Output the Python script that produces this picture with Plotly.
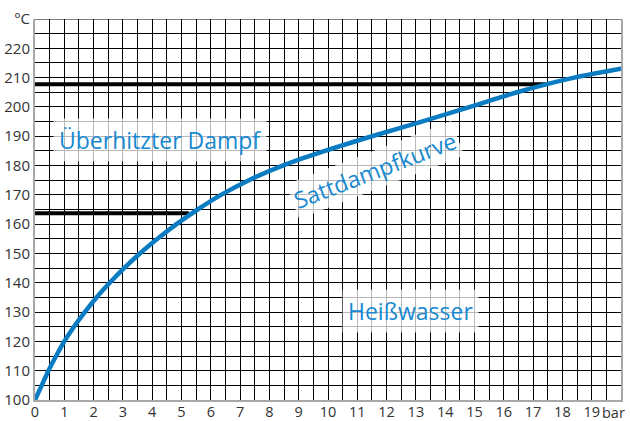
import plotly.graph_objects as go

# Saturation curve of water: gauge pressure (bar) vs temperature (°C)
pressure_bar = [0, 0.23, 0.46, 0.72, 1.0, 1.33, 1.7, 2.1, 2.55, 3.04, 3.58, 4.18,
                4.83, 5.55, 6.35, 7.3, 8.45, 9.9, 11.5, 13.2, 14.85, 16.45, 18.4, 20, 20.2]
temperature_c = [100, 105, 110, 115, 120, 125, 130, 135, 140, 145, 150, 155,
                 160, 165, 170, 175, 180, 185, 190, 195, 200, 205, 210, 213, 213.4]

# Marked operating points: horizontal lines running up to the curve
marker_temps = [207.7, 163.7]
marker_end_bar = [17.45, 5.25]

x_ticks = list(range(0, 20))
x_tick_labels = [str(v) for v in x_ticks]
y_ticks = list(range(100, 230, 10)) + [230]
y_tick_labels = [str(v) for v in range(100, 230, 10)] + ["°C"]

BLUE = "#0b7cc1"
TEXT_BLUE = "#1889d0"
FONT = "Open Sans"

fig = go.Figure()

for t, xe in zip(marker_temps, marker_end_bar):
    fig.add_trace(go.Scatter(x=[0, xe], y=[t, t], mode="lines",
                             line=dict(color="black", width=4),
                             hoverinfo="skip", showlegend=False))

fig.add_trace(go.Scatter(x=pressure_bar, y=temperature_c, mode="lines",
                         line=dict(color=BLUE, width=4.5, shape="spline", smoothing=1.0),
                         cliponaxis=False, showlegend=False))

box = "rgba(255,255,255,0.72)"
fig.add_annotation(x=4.27, y=188.8, text="Überhitzter Dampf", showarrow=False,
                   font=dict(family=FONT, size=23, color=TEXT_BLUE),
                   bgcolor=box, borderpad=5)
fig.add_annotation(x=11.6, y=178.6, text="Sattdampfkurve", showarrow=False, textangle=-21,
                   font=dict(family=FONT, size=23, color=TEXT_BLUE),
                   bgcolor=box, borderpad=2)
fig.add_annotation(x=12.8, y=130.2, text="Heißwasser", showarrow=False,
                   font=dict(family=FONT, size=23, color=TEXT_BLUE),
                   bgcolor=box, borderpad=5)
fig.add_annotation(x=19.76, y=0, yref="paper", text="bar", showarrow=False,
                   xanchor="center", yanchor="top", yshift=-1,
                   font=dict(family=FONT, size=14.5, color="#333333"))

# top border of the grid
fig.add_shape(type="line", x0=0, x1=20, y0=230, y1=230,
              line=dict(color="black", width=1), layer="above")

fig.update_xaxes(range=[0, 20], tickmode="array", tickvals=x_ticks, ticktext=x_tick_labels,
                 showgrid=True, gridcolor="black", gridwidth=1,
                 minor=dict(dtick=0.5, showgrid=True, gridcolor="black", gridwidth=1),
                 showline=True, linecolor="#a8a8a8", linewidth=2,
                 zeroline=False, ticks="", automargin=False, ticklabelstandoff=-2,
                 tickfont=dict(family=FONT, size=14.5, color="#333333"))
fig.update_yaxes(range=[100, 230], tickmode="array", tickvals=y_ticks, ticktext=y_tick_labels,
                 showgrid=True, gridcolor="black", gridwidth=1,
                 minor=dict(dtick=5, showgrid=True, gridcolor="black", gridwidth=1),
                 showline=True, mirror=True, linecolor="#a8a8a8", linewidth=2,
                 zeroline=False, ticks="", automargin=False,
                 tickfont=dict(family=FONT, size=15, color="#333333"))

fig.update_layout(width=630, height=421, margin=dict(l=35, r=9, t=19, b=21, autoexpand=False),
                  plot_bgcolor="white", paper_bgcolor="white")

fig.write_html("out.html")
